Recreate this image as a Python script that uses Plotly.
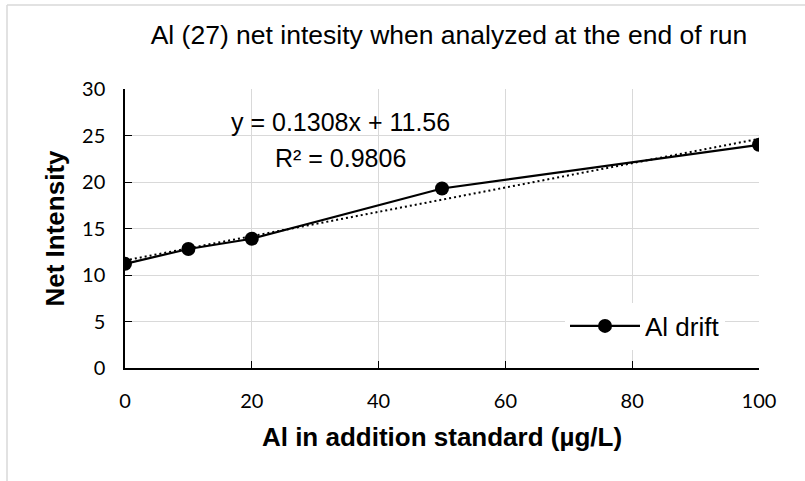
import numpy as np
import plotly.graph_objects as go

# Data
x_std = [0, 10, 20, 50, 100]
net_intensity = [11.2, 12.8, 13.9, 19.3, 24.0]
series_name = "Al drift"
trend_slope = 0.1308
trend_intercept = 11.56
trend_label = "y = 0.1308x + 11.56"
r2_label = "R² = 0.9806"
x_ticks = [0, 20, 40, 60, 80, 100]
y_ticks = [0, 5, 10, 15, 20, 25, 30]

W, H = 805, 481
L, R, T, B = 125, 46, 89, 113
pw, ph = W - L - R, H - T - B

def px_x(p):
    return (p - L) / pw

def px_y(p):
    return (H - B - p) / ph

trend_x = [min(x_std), max(x_std)]
trend_y = [trend_slope * v + trend_intercept for v in trend_x]

ARIAL = "Liberation Sans, Arial"
TICKF = "Lato, Carlito, Calibri"

fig = go.Figure()
fig.add_trace(go.Scatter(
    x=trend_x, y=trend_y, mode="lines",
    line=dict(color="black", width=2, dash="2px,3px"),
    showlegend=False, hoverinfo="skip"))
fig.add_trace(go.Scatter(
    x=x_std, y=net_intensity, mode="lines+markers", name=series_name,
    line=dict(color="black", width=2.2),
    marker=dict(color="black", size=14)))

fig.add_annotation(x=px_x(340), y=px_y(122), xref="paper", yref="paper",
                   xanchor="center", yanchor="middle",
                   text=trend_label, showarrow=False,
                   font=dict(family=ARIAL, size=25, color="black"))
fig.add_annotation(x=px_x(340), y=px_y(158), xref="paper", yref="paper",
                   xanchor="center", yanchor="middle",
                   text=r2_label, showarrow=False,
                   font=dict(family=ARIAL, size=25, color="black"))

# outer chart border (top and left edges visible in the crop)
fig.add_shape(type="line", xref="paper", yref="paper",
              x0=px_x(7), x1=px_x(810), y0=px_y(5), y1=px_y(5),
              line=dict(color="#d9d9d9", width=1.5), layer="below")
fig.add_shape(type="line", xref="paper", yref="paper",
              x0=px_x(7), x1=px_x(7), y0=px_y(5), y1=px_y(495),
              line=dict(color="#d9d9d9", width=1.5), layer="below")

fig.update_layout(
    width=W, height=H,
    margin=dict(l=L, r=R, t=T, b=B),
    paper_bgcolor="white", plot_bgcolor="white",
    title=dict(text="Al (27) net intesity when analyzed at the end of run",
               xref="container", x=449 / W, xanchor="center",
               yref="container", y=1 - 35 / H, yanchor="middle",
               font=dict(family=ARIAL, size=26.5, color="black")),
    showlegend=True,
    legend=dict(x=px_x(565), y=px_y(326), xanchor="left", yanchor="middle",
                bgcolor="white", font=dict(family=ARIAL, size=26, color="black"),
                itemwidth=70),
    xaxis=dict(range=[0, 100], tickvals=x_ticks, showgrid=True, gridcolor="#d9d9d9", gridwidth=1,
               showline=True, linecolor="black", linewidth=1.5, ticks="inside", ticklen=7,
               tickcolor="black", zeroline=False, ticklabelstandoff=14,
               tickfont=dict(family=TICKF, size=20, color="black"),
               title=dict(text="<b>Al in addition standard (µg/L)</b>", standoff=17,
                          font=dict(family=ARIAL, size=26, color="black"))),
    yaxis=dict(range=[0, 30], tickvals=y_ticks, showgrid=True, gridcolor="#d9d9d9", gridwidth=1,
               showline=True, linecolor="black", linewidth=1.5, ticks="inside", ticklen=7,
               tickcolor="black", zeroline=False, ticklabelstandoff=14,
               tickfont=dict(family=TICKF, size=20, color="black"),
               title=dict(text="<b>Net Intensity</b>", standoff=10,
                          font=dict(family=ARIAL, size=26, color="black"))),
)

fig.write_html("out.html", config={"displayModeBar": False},
               post_script="document.body.style.margin='0';")
